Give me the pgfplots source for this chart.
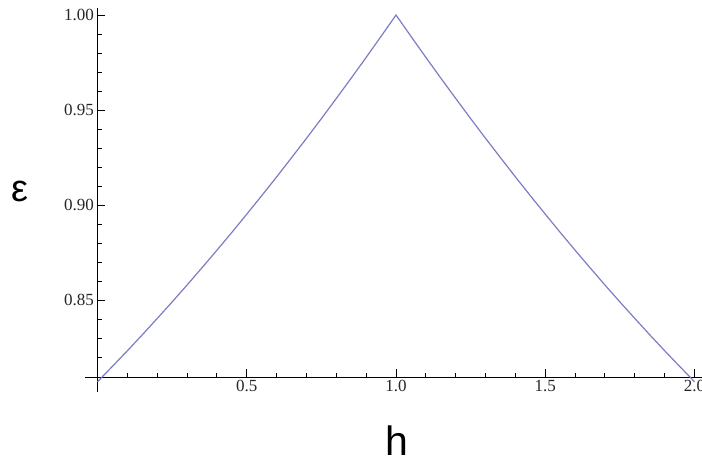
\documentclass[border=0pt]{standalone}
\usepackage{fontspec}
\setmainfont{Liberation Serif}
\newfontfamily\labelfont{Liberation Sans}
\usepackage{pgfplots}
\pgfplotsset{compat=1.18}
\definecolor{curveblue}{RGB}{124,124,198}

\begin{document}
\begin{tikzpicture}
\begin{axis}[
  scale only axis,
  width=604.5pt, height=369pt,
  xmin=0, xmax=2.025,
  ymin=0.8095, ymax=1.0037,
  axis lines*=left,
  axis line style={line width=1pt, black},
  tick align=inside,
  major tick length=8pt,
  minor tick length=4.5pt,
  every tick/.style={black, line width=1pt},
  xtick={0.5,1,1.5,2},
  xticklabels={0.5,1.0,1.5,2.0},
  minor xtick={0.1,0.2,0.3,0.4,0.6,0.7,0.8,0.9,1.1,1.2,1.3,1.4,1.6,1.7,1.8,1.9},
  ytick={0.85,0.90,0.95,1.00},
  yticklabels={0.85,0.90,0.95,1.00},
  minor ytick={0.82,0.83,0.84,0.86,0.87,0.88,0.89,0.91,0.92,0.93,0.94,0.96,0.97,0.98,0.99},
  /pgf/number format/assume math mode=true,
  tick label style={font=\fontsize{17}{20}\selectfont, text=black!85},
  xlabel={h},
  ylabel={ε},
  xlabel style={font=\labelfont\fontsize{41}{46}\selectfont, inner sep=0pt,
    at={(axis description cs:0.4955,-0.1734)}, anchor=center},
  ylabel style={font=\labelfont\fontsize{38}{44}\selectfont, inner sep=0pt,
    at={(axis description cs:-0.128,0.504)}, anchor=center, rotate=-90},
  clip=false,
]
% short continuations of both axis lines past their crossing point
\draw[line width=1pt, black] (axis cs:-0.042,0.8095) -- (axis cs:0,0.8095);
\draw[line width=1pt, black] (axis cs:0,0.8095) -- (axis cs:0,0.8016);

\addplot[curveblue, line width=1.2pt, no markers] coordinates {
  (0.00,0.8070) (0.05,0.8151) (0.10,0.8233) (0.15,0.8317) (0.20,0.8403)
  (0.25,0.8490) (0.30,0.8579) (0.35,0.8670) (0.40,0.8762) (0.45,0.8856)
  (0.50,0.8952) (0.55,0.9049) (0.60,0.9148) (0.65,0.9249) (0.70,0.9351)
  (0.75,0.9455) (0.80,0.9561) (0.85,0.9668) (0.90,0.9777) (0.95,0.9888)
  (1.00,1.0000)
  (1.05,0.9888) (1.10,0.9777) (1.15,0.9668) (1.20,0.9561) (1.25,0.9455)
  (1.30,0.9351) (1.35,0.9249) (1.40,0.9148) (1.45,0.9049) (1.50,0.8952)
  (1.55,0.8856) (1.60,0.8762) (1.65,0.8670) (1.70,0.8579) (1.75,0.8490)
  (1.80,0.8403) (1.85,0.8317) (1.90,0.8233) (1.95,0.8151) (2.00,0.8070)
};
\end{axis}
\pgfresetboundingbox
\path[use as bounding box] (-97.5pt,-84pt) rectangle (604.5pt,377pt);
\end{tikzpicture}
\end{document}
